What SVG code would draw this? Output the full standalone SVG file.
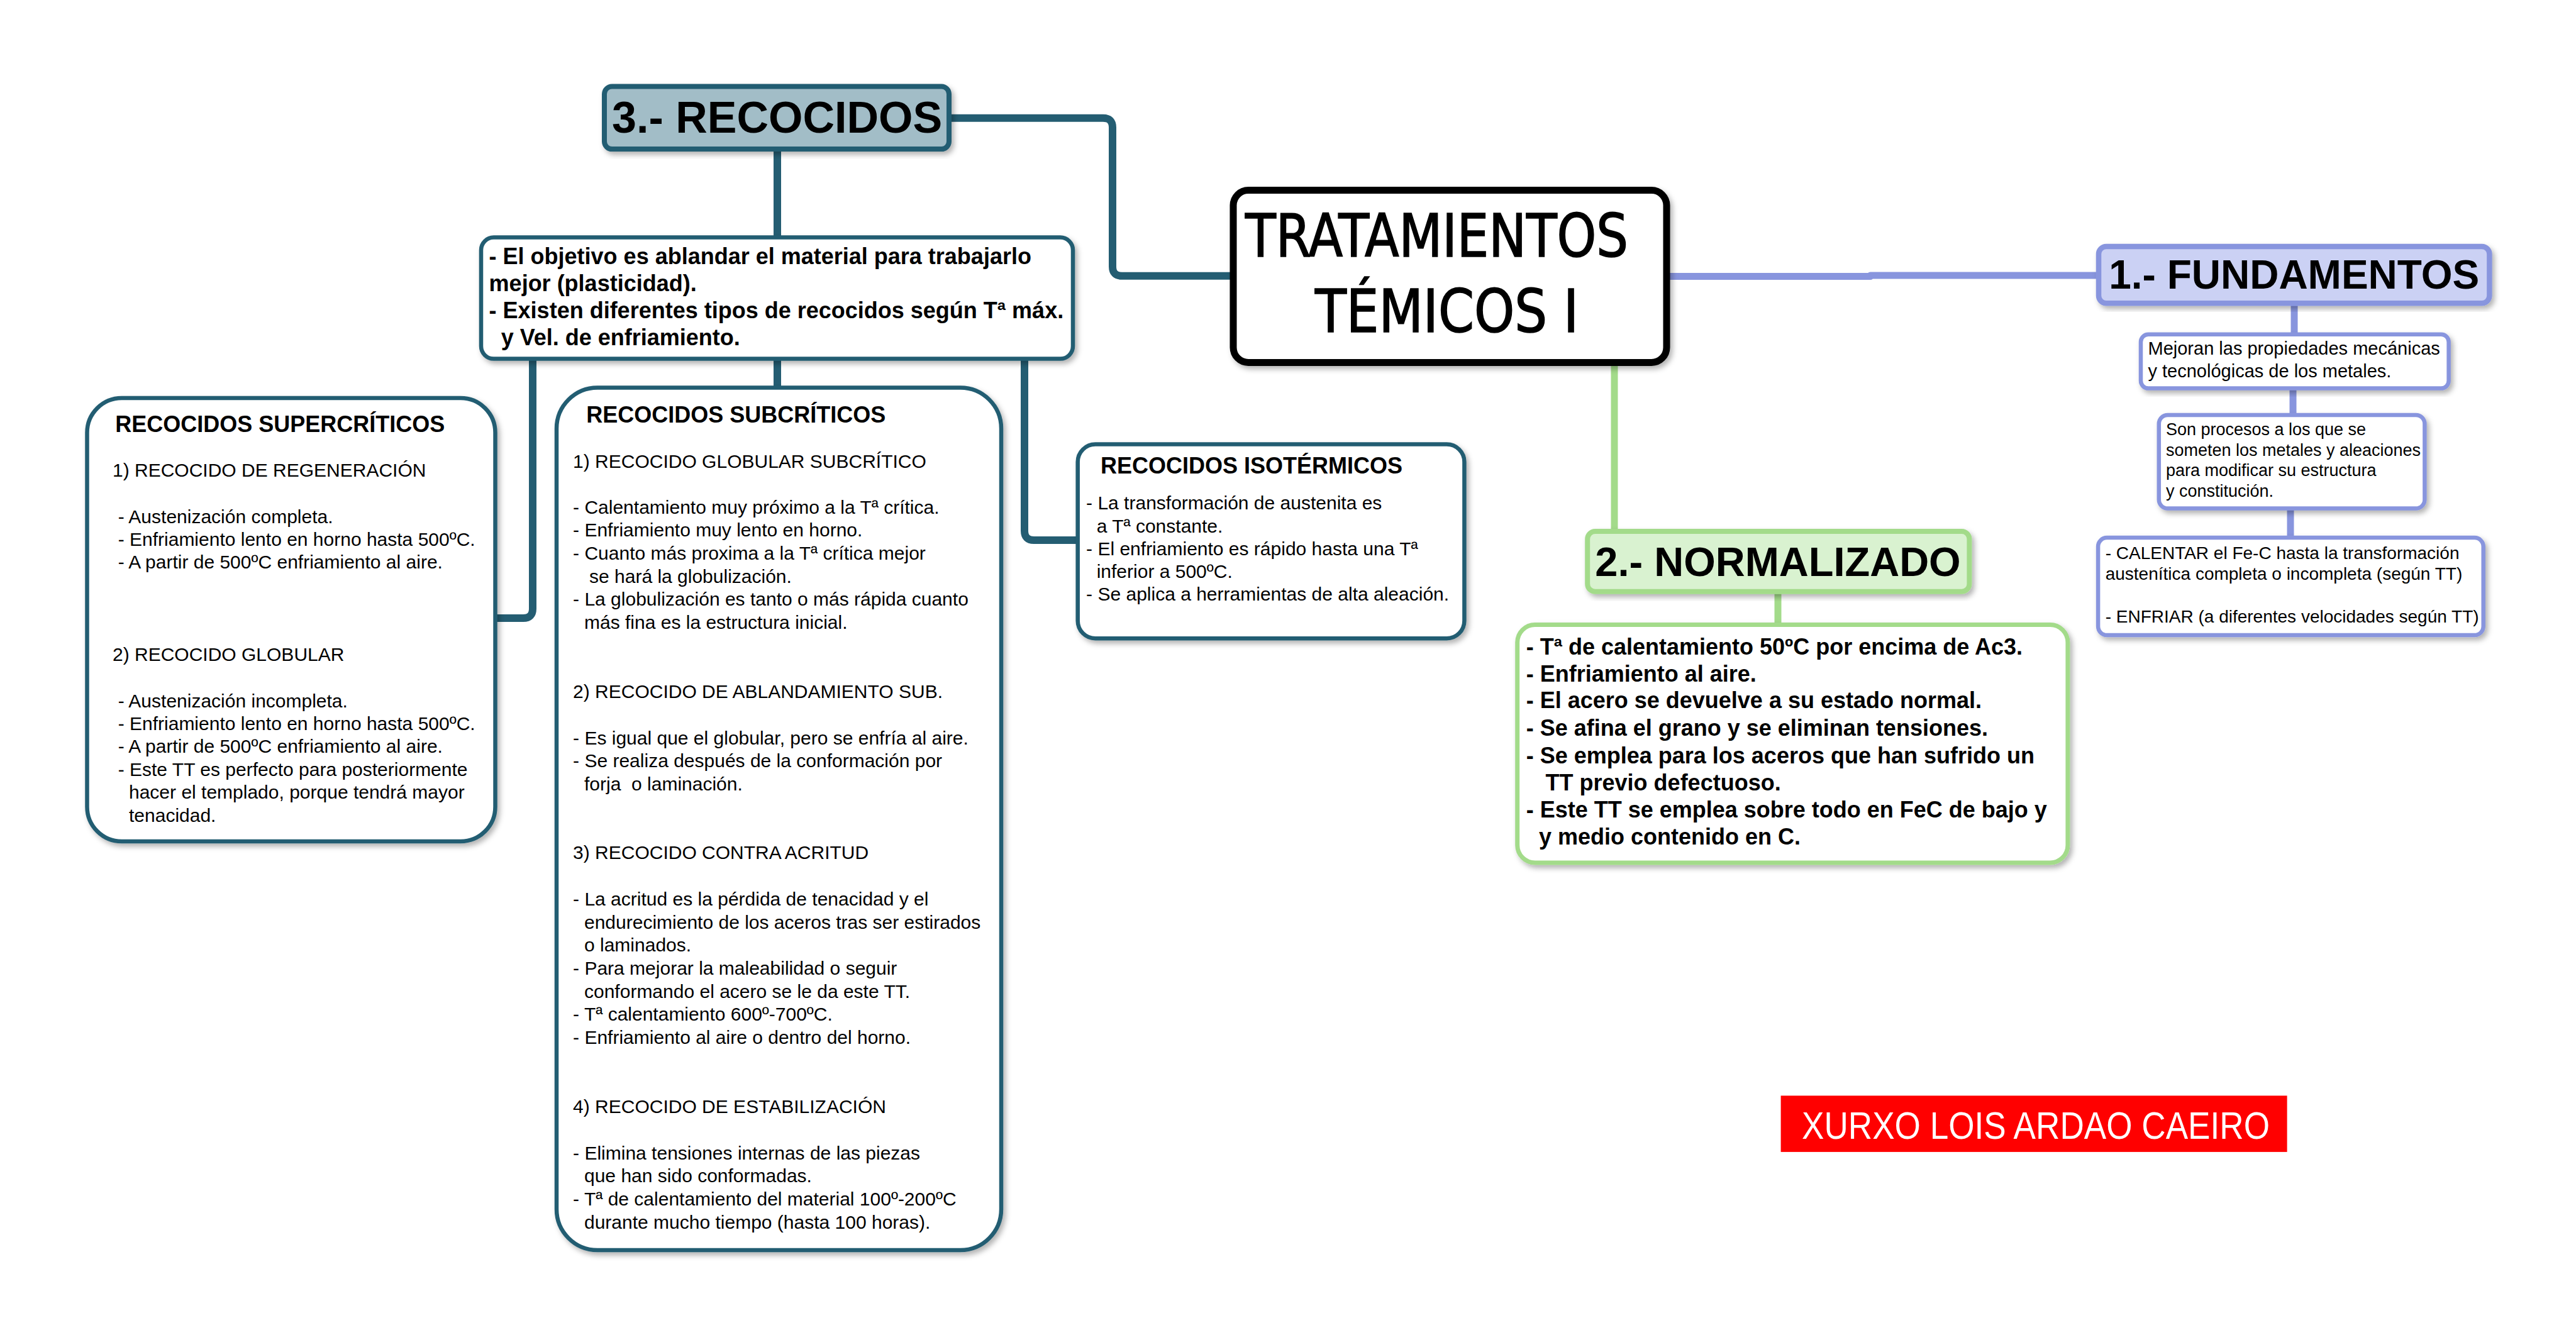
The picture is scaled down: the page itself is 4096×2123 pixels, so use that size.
<svg xmlns="http://www.w3.org/2000/svg" width="4096" height="2123" viewBox="0 0 4096 2123">
<defs>
<filter id="sh" x="-10%" y="-10%" width="125%" height="125%">
<feDropShadow dx="4" dy="5" stdDeviation="4" flood-color="#000" flood-opacity="0.3"/>
</filter>
<style>
.cn{fill:none;stroke-linejoin:round;stroke-linecap:butt}
.teal{stroke:#245d72;stroke-width:12}
.blue{stroke:#8895de;stroke-width:11}
.green{stroke:#a3db8a;stroke-width:11}
.bt{fill:#fff;stroke:#245d72;stroke-width:6.5}
.bb{fill:#fff;stroke:#8895de;stroke-width:6.5}
.bg{fill:#fff;stroke:#a3db8a;stroke-width:7}
text{font-family:"Liberation Sans",Arial,sans-serif;fill:#000}
.r30{font-size:30px}
.h36{font-size:36px;font-weight:bold}
.b36{font-size:36px;font-weight:bold}
.big{font-weight:bold;text-anchor:middle}
.tt{font-family:"DejaVu Sans Condensed","DejaVu Sans",sans-serif;font-stretch:condensed;font-size:95px;stroke:#000;stroke-width:1.6}
</style>
</defs>
<rect width="4096" height="2123" fill="#fff"/>
<g id="connectors">
<path class="cn teal" d="M1962,438.8 H1784 Q1769,438.8 1769,424 V202.7 Q1769,187.7 1754,187.7 H1510"/>
<path class="cn blue" d="M2650,439.5 H2974 V438 H3337"/>
<path class="cn green" d="M2567,577 V845"/>
<path class="cn green" d="M2827,941 V994"/>
<path class="cn teal" d="M1236,237 V378"/>
<path class="cn teal" d="M847,571 V968 Q847,983 832,983 H788"/>
<path class="cn teal" d="M1236,571 V617"/>
<path class="cn teal" d="M1629,571 V844 Q1629,859 1644,859 H1714"/>
<path class="cn blue" d="M3648,482 V532"/>
<path class="cn blue" d="M3646,617 V660"/>
<path class="cn blue" d="M3642,808 V855"/>
</g>
<g id="title">
<rect x="1961" y="302.5" width="689" height="274" rx="24" fill="#fff" stroke="#000" stroke-width="11" filter="url(#sh)"/>
<text class="tt" x="1980" y="408" textLength="609" lengthAdjust="spacingAndGlyphs">TRATAMIENTOS</text>
<text class="tt" x="2091" y="528" textLength="419" lengthAdjust="spacingAndGlyphs">TÉMICOS I</text>
</g>
<g id="recocidos">
<rect x="961" y="137.5" width="548" height="99.6" rx="12" fill="#a2bdc7" stroke="#245d72" stroke-width="8" filter="url(#sh)"/>
<text class="big" x="1235.6" y="210.8" font-size="70">3.- RECOCIDOS</text>
</g>
<g id="objetivo">
<rect class="bt" x="765" y="377.6" width="941" height="193" rx="20" filter="url(#sh)"/>
<text class="b36" x="777.6" y="420">- El objetivo es ablandar el material para trabajarlo</text>
<text class="b36" x="777.6" y="462.5">mejor (plasticidad).</text>
<text class="b36" x="777.6" y="506">- Existen diferentes tipos de recocidos según Tª máx.</text>
<text class="b36" x="796.7" y="548.6">y Vel. de enfriamiento.</text>
</g>
<g id="supercriticos">
<rect class="bt" x="138.5" y="633" width="649" height="705" rx="55" filter="url(#sh)"/>
<text class="h36" x="183.3" y="686.9">RECOCIDOS SUPERCRÍTICOS</text>
<g class="r30">
<text x="179" y="758.3">1) RECOCIDO DE REGENERACIÓN</text>
<text x="187.7" y="832.1">- Austenización completa.</text>
<text x="187.7" y="867.7">- Enfriamiento lento en horno hasta 500ºC.</text>
<text x="187.7" y="904.4">- A partir de 500ºC enfriamiento al aire.</text>
<text x="179" y="1051">2) RECOCIDO GLOBULAR</text>
<text x="187.7" y="1124.8">- Austenización incompleta.</text>
<text x="187.7" y="1160.5">- Enfriamiento lento en horno hasta 500ºC.</text>
<text x="187.7" y="1197.1">- A partir de 500ºC enfriamiento al aire.</text>
<text x="187.7" y="1234.3">- Este TT es perfecto para posteriormente</text>
<text x="205" y="1270">hacer el templado, porque tendrá mayor</text>
<text x="205" y="1306.6">tenacidad.</text>
</g>
</g>
<g id="subcriticos">
<rect class="bt" x="885" y="616.5" width="707" height="1371.6" rx="65" filter="url(#sh)"/>
<text class="h36" x="932.3" y="671.5">RECOCIDOS SUBCRÍTICOS</text>
<g class="r30">
<text x="911.1" y="744">1) RECOCIDO GLOBULAR SUBCRÍTICO</text>
<text x="911.1" y="816.5">- Calentamiento muy próximo a la Tª crítica.</text>
<text x="911.1" y="853.2">- Enfriamiento muy lento en horno.</text>
<text x="911.1" y="889.9">- Cuanto más proxima a la Tª crítica mejor</text>
<text x="937" y="926.6">se hará la globulización.</text>
<text x="911.1" y="963.3">- La globulización es tanto o más rápida cuanto</text>
<text x="929" y="1000">más fina es la estructura inicial.</text>
<text x="911.1" y="1110.1">2) RECOCIDO DE ABLANDAMIENTO SUB.</text>
<text x="911.1" y="1183.5">- Es igual que el globular, pero se enfría al aire.</text>
<text x="911.1" y="1220.2">- Se realiza después de la conformación por</text>
<text x="929" y="1256.9" xml:space="preserve">forja  o laminación.</text>
<text x="911.1" y="1366.4">3) RECOCIDO CONTRA ACRITUD</text>
<text x="911.1" y="1439.8">- La acritud es la pérdida de tenacidad y el</text>
<text x="929" y="1476.5">endurecimiento de los aceros tras ser estirados</text>
<text x="929" y="1513.2">o laminados.</text>
<text x="911.1" y="1549.9">- Para mejorar la maleabilidad o seguir</text>
<text x="929" y="1586.6">conformando el acero se le da este TT.</text>
<text x="911.1" y="1623.3">- Tª calentamiento 600º-700ºC.</text>
<text x="911.1" y="1660">- Enfriamiento al aire o dentro del horno.</text>
<text x="911.1" y="1770.1">4) RECOCIDO DE ESTABILIZACIÓN</text>
<text x="911.1" y="1843.5">- Elimina tensiones internas de las piezas</text>
<text x="929" y="1880.2">que han sido conformadas.</text>
<text x="911.1" y="1916.9">- Tª de calentamiento del material 100º-200ºC</text>
<text x="929" y="1953.6">durante mucho tiempo (hasta 100 horas).</text>
</g>
</g>
<g id="isotermicos">
<rect class="bt" x="1713.7" y="706.6" width="614.7" height="308.6" rx="28" filter="url(#sh)"/>
<text class="h36" x="1750" y="752.9">RECOCIDOS ISOTÉRMICOS</text>
<g class="r30">
<text x="1727.1" y="810.3">- La transformación de austenita es</text>
<text x="1743.7" y="847.4">a Tª constante.</text>
<text x="1727.1" y="883.4">- El enfriamiento es rápido hasta una Tª</text>
<text x="1743.7" y="919.4">inferior a 500ºC.</text>
<text x="1727.1" y="955.4">- Se aplica a herramientas de alta aleación.</text>
</g>
</g>
<g id="normalizado">
<rect x="2524.2" y="845.1" width="607.2" height="95.6" rx="12" fill="#d9f2d0" stroke="#a3db8a" stroke-width="8" filter="url(#sh)"/>
<text class="big" x="2827" y="915.6" font-size="65">2.- NORMALIZADO</text>
</g>
<g id="normalizado-detalle">
<rect class="bg" x="2412.7" y="993.6" width="875.2" height="378.3" rx="28" filter="url(#sh)"/>
<g class="b36">
<text x="2426.7" y="1041">- Tª de calentamiento 50ºC por encima de Ac3.</text>
<text x="2426.7" y="1083.5">- Enfriamiento al aire.</text>
<text x="2426.7" y="1126.4">- El acero se devuelve a su estado normal.</text>
<text x="2426.7" y="1170.1">- Se afina el grano y se eliminan tensiones.</text>
<text x="2426.7" y="1213.7">- Se emplea para los aceros que han sufrido un</text>
<text x="2457.6" y="1257.3">TT previo defectuoso.</text>
<text x="2426.7" y="1300.2">- Este TT se emplea sobre todo en FeC de bajo y</text>
<text x="2447" y="1342.7">y medio contenido en C.</text>
</g>
</g>
<g id="fundamentos">
<rect x="3337" y="392.1" width="621.4" height="90.2" rx="12" fill="#cbd1f4" stroke="#8895de" stroke-width="8.5" filter="url(#sh)"/>
<text class="big" x="3647.7" y="459.3" font-size="64">1.- FUNDAMENTOS</text>
</g>
<g id="fund-1">
<rect class="bb" x="3404" y="531.8" width="489.6" height="85.8" rx="12" filter="url(#sh)"/>
<text x="3415.5" y="564.2" font-size="29">Mejoran las propiedades mecánicas</text>
<text x="3415.5" y="599.9" font-size="29">y tecnológicas de los metales.</text>
</g>
<g id="fund-2">
<rect class="bb" x="3432.8" y="659.9" width="422.6" height="148.7" rx="14" filter="url(#sh)"/>
<text x="3443.9" y="692.3" font-size="27">Son procesos a los que se</text>
<text x="3443.9" y="725" font-size="27">someten los metales y aleaciones</text>
<text x="3443.9" y="757.3" font-size="27">para modificar su estructura</text>
<text x="3443.9" y="790.1" font-size="27">y constitución.</text>
</g>
<g id="fund-3">
<rect class="bb" x="3336.1" y="855.1" width="612.6" height="155" rx="14" filter="url(#sh)"/>
<text x="3347.7" y="888.7" font-size="28">- CALENTAR el Fe-C hasta la transformación</text>
<text x="3347.7" y="922.3" font-size="28">austenítica completa o incompleta (según TT)</text>
<text x="3347.7" y="989.5" font-size="28">- ENFRIAR (a diferentes velocidades según TT)</text>
</g>
<g id="autor">
<rect x="2831.6" y="1742.4" width="805" height="89.5" fill="#ff0000"/>
<text x="2865" y="1810.6" font-size="62" textLength="744" lengthAdjust="spacingAndGlyphs" style="fill:#fff">XURXO LOIS ARDAO CAEIRO</text>
</g>
</svg>
